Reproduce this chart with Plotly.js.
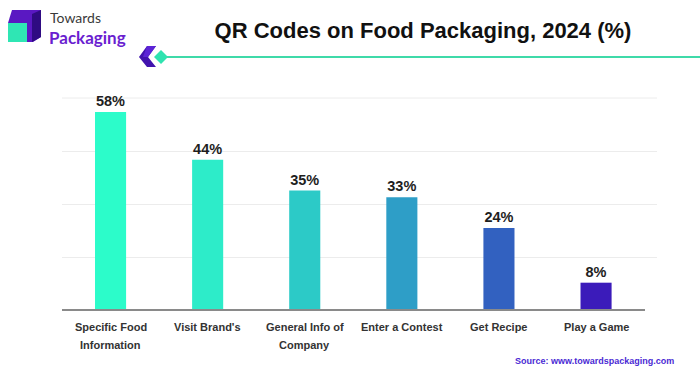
<!DOCTYPE html>
<html>
<head>
<meta charset="utf-8">
<script src="https://cdn.plot.ly/plotly-3.0.1.min.js"></script>
<style>
  html, body { margin: 0; padding: 0; background: #ffffff; }
  #chart { width: 700px; height: 376px; }
</style>
</head>
<body>
<div id="chart"></div>
<script>
// ---- data ----
const categories = [
  "Specific Food<br>Information",
  "Visit Brand's",
  "General Info of<br>Company",
  "Enter a Contest",
  "Get Recipe",
  "Play a Game"
];
const shares = [58, 44, 35, 33, 24, 8];
const valueLabels = ["58%", "44%", "35%", "33%", "24%", "8%"];

// ---- style ----
const barColors = ["#2CFCCA", "#2DECC9", "#2CCAC7", "#2E9EC7", "#3261C0", "#3B1BBA"];

const W = 700, H = 376;
const L = 62, R = 657, T = 98, B = 310;
const px = x => (x - L) / (R - L);
const py = y => (B - y) / (B - T);
function poly(pts) {
  return pts.map((p, i) => (i ? "L" : "M") + px(p[0]).toFixed(5) + "," + py(p[1]).toFixed(5)).join(" ") + " Z";
}

const trace = {
  type: "bar",
  x: categories,
  y: shares,
  text: valueLabels,
  textposition: "outside",
  texttemplate: "%{text}",
  cliponaxis: false,
  textfont: { family: "Liberation Sans, Arial, sans-serif", size: 14.5, color: "#1e1e1e", weight: "bold" },
  marker: { color: barColors, line: { width: 0 } },
  width: 0.32,
  hoverinfo: "skip"
};

const shapes = [
  // top gridline
  { type: "line", xref: "paper", yref: "paper", x0: 0, x1: 1, y0: py(98), y1: py(98),
    line: { color: "#ececec", width: 1 }, layer: "below" },
  // baseline axis
  { type: "line", xref: "paper", yref: "paper", x0: 0, x1: px(645), y0: 0, y1: 0,
    line: { color: "#8a8a8a", width: 2 } },
  // teal line under title
  { type: "line", xref: "paper", yref: "paper", x0: px(160), x1: px(702), y0: py(57), y1: py(57),
    line: { color: "#3FDAA9", width: 2 } },
  // chevron
  { type: "path", xref: "paper", yref: "paper",
    path: poly([[147,46],[156,46],[148,57],[156,67],[147,67],[139,57]]),
    fillcolor: "#4213AE", line: { width: 0 } },
  { type: "path", xref: "paper", yref: "paper",
    path: poly([[147,46],[156,46],[148,57],[143,57]]),
    fillcolor: "#5C24D6", line: { width: 0 } },
  // diamond
  { type: "path", xref: "paper", yref: "paper",
    path: poly([[161,50],[168,57],[161,64],[154,57]]),
    fillcolor: "#2FE3B0", line: { width: 0 } },
  // logo cube
  { type: "path", xref: "paper", yref: "paper",
    path: poly([[12,10],[41,10],[41,37],[33,42],[8,42],[8,23]]),
    fillcolor: "#5A18C2", line: { width: 0 } },
  { type: "path", xref: "paper", yref: "paper",
    path: poly([[32,14],[41,10],[41,37],[32,42]]),
    fillcolor: "#2F0B82", line: { width: 0 } },
  { type: "rect", xref: "paper", yref: "paper",
    x0: px(8), x1: px(27), y0: py(42), y1: py(23),
    fillcolor: "#2FE6B4", line: { width: 0 } }
];

const annotations = [
  { xref: "paper", yref: "paper", x: px(48), y: py(17), xanchor: "left", yanchor: "middle",
    text: "Towards", showarrow: false,
    font: { family: "Lato, Open Sans, sans-serif", size: 14, color: "#3a3a3a" } },
  { xref: "paper", yref: "paper", x: px(47), y: py(37), xanchor: "left", yanchor: "middle",
    text: "<b>Packaging</b>", showarrow: false,
    font: { family: "Lato, Open Sans, sans-serif", size: 17, color: "#6A1ED0" } },
  { xref: "paper", yref: "paper", x: px(676), y: py(361), xanchor: "right", yanchor: "middle",
    text: "<b>Source: www.towardspackaging.com</b>", showarrow: false,
    font: { family: "Liberation Sans, Arial, sans-serif", size: 9, color: "#4A2AD4" } }
];

// category labels under the axis, one annotation per line for the reference's line spacing
categories.forEach(cat => {
  cat.split("<br>").forEach((line, i) => {
    annotations.push({
      xref: "x", yref: "paper", x: cat, y: py(327 + i * 18),
      xanchor: "center", yanchor: "middle", showarrow: false,
      text: "<b>" + line + "</b>",
      font: { family: "Liberation Sans, Arial, sans-serif", size: 11, color: "#333333" }
    });
  });
});

const layout = {
  width: W, height: H,
  margin: { l: L, r: W - R, t: T, b: H - B, pad: 0 },
  paper_bgcolor: "#ffffff",
  plot_bgcolor: "#ffffff",
  showlegend: false,
  title: {
    text: "<b>QR Codes on Food Packaging, 2024 (%)</b>",
    x: 423 / W, xanchor: "center", xref: "container",
    y: 1 - 30 / H, yanchor: "middle", yref: "container",
    font: { family: "Liberation Sans, Arial, sans-serif", size: 22, color: "#111111" }
  },
  xaxis: {
    type: "category",
    range: [-0.5, -0.5 + (R - L) / 97.1],
    showline: false, showgrid: false, zeroline: false,
    showticklabels: false,
    ticks: "", ticklen: 0,
    fixedrange: true
  },
  yaxis: {
    range: [0, 62.1],
    dtick: 15.525, tick0: 0,
    showticklabels: false, ticks: "",
    showgrid: true, gridcolor: "#ececec", gridwidth: 1,
    zeroline: false, showline: false,
    fixedrange: true
  },
  bargap: 0.68,
  shapes: shapes,
  annotations: annotations
};

Plotly.newPlot("chart", [trace], layout, { displayModeBar: false, staticPlot: true });
</script>
</body>
</html>
